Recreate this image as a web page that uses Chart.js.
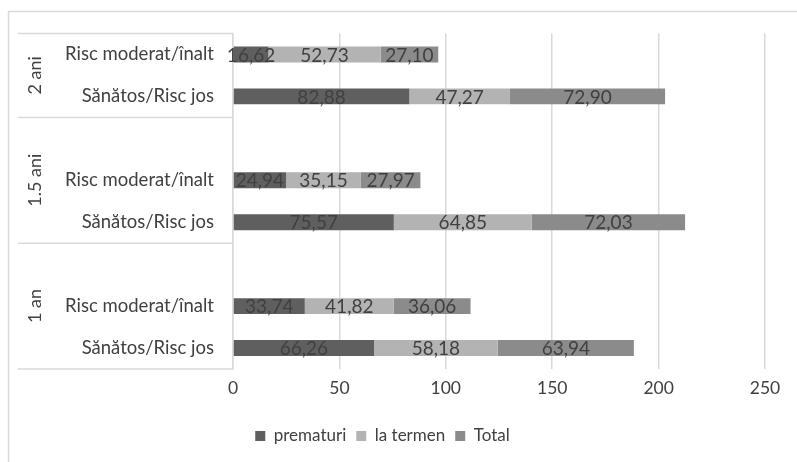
<!DOCTYPE html>
<html>
<head>
<meta charset="utf-8">
<script src="https://cdn.jsdelivr.net/npm/chart.js@4.4.1/dist/chart.umd.min.js"></script>
<style>
  html, body { margin: 0; padding: 0; background: #ffffff; }
  #wrap { width: 797px; height: 462px; }
</style>
</head>
<body>
<div id="wrap"><canvas id="chart" width="797" height="462"></canvas></div>
<script>
// Age groups (top to bottom) and the two risk categories inside each group
const groups = ['2 ani', '1.5 ani', '1 an'];
const subcats = ['Risc moderat/înalt', 'Sănătos/Risc jos'];
const seriesNames = ['prematuri', 'la termen', 'Total'];

// Percentages, row order: 2 ani (Risc, Sănătos), 1.5 ani (Risc, Sănătos), 1 an (Risc, Sănătos)
const prematuri = [16.62, 82.88, 24.94, 75.57, 33.74, 66.26];
const laTermen  = [52.73, 47.27, 35.15, 64.85, 41.82, 58.18];
const total     = [27.10, 72.90, 27.97, 72.03, 36.06, 63.94];

const xTicks = [0, 50, 100, 150, 200, 250];

const seriesColors = ['#5f5f5f', '#b3b3b3', '#8b8b8b'];
const FONT = 'Lato';
const TEXT = '#404040';
const RULE = '#d9d9d9';

// Build category slots: every group after the first starts with an empty slot
const slotLabels = [];
const slotGroup = [];
const slotIndex = [];
groups.forEach((g, gi) => {
  if (gi > 0) { slotLabels.push(''); slotGroup.push(gi); slotIndex.push(-1); }
  subcats.forEach((s, si) => {
    slotLabels.push(s); slotGroup.push(gi); slotIndex.push(gi * subcats.length + si);
  });
});
const toSlots = arr => slotIndex.map(i => (i < 0 ? null : arr[i]));

const fmt = v => v.toFixed(2).replace('.', ',');

// Frame around the whole chart
const framePlugin = {
  id: 'frame',
  beforeDraw(chart) {
    const ctx = chart.ctx;
    ctx.save();
    ctx.strokeStyle = RULE;
    ctx.lineWidth = 1.5;
    ctx.strokeRect(8.5, 11.5, 1000, 1000);
    ctx.restore();
  }
};

// Value labels centred in each bar segment
const valueLabels = {
  id: 'valueLabels',
  afterDatasetsDraw(chart) {
    const ctx = chart.ctx;
    ctx.save();
    ctx.font = `19px ${FONT}`;
    ctx.fillStyle = TEXT;
    ctx.textAlign = 'center';
    ctx.textBaseline = 'middle';
    chart.data.datasets.forEach((ds, di) => {
      const meta = chart.getDatasetMeta(di);
      meta.data.forEach((bar, i) => {
        const v = ds.data[i];
        if (v == null) return;
        ctx.fillText(fmt(v), (bar.x + bar.base) / 2, bar.y + 1);
      });
    });
    ctx.restore();
  }
};

// Group separators and rotated group names on the category axis
const groupAxis = {
  id: 'groupAxis',
  afterDraw(chart) {
    const ctx = chart.ctx;
    const y = chart.scales.y;
    const area = chart.chartArea;
    const n = slotLabels.length;
    const edge = k => {
      if (k <= 0) return area.top;
      if (k >= n) return area.bottom;
      return (y.getPixelForTick(k - 1) + y.getPixelForTick(k)) / 2;
    };
    const x0 = 18, x1 = area.left;
    ctx.save();
    ctx.strokeStyle = RULE;
    ctx.lineWidth = 1.5;
    const bounds = [];
    groups.forEach((g, gi) => {
      const first = slotGroup.indexOf(gi);
      const last = slotGroup.lastIndexOf(gi);
      bounds.push([edge(first), edge(last + 1)]);
    });
    const lines = new Set();
    bounds.forEach(([a, b]) => { lines.add(a); lines.add(b); });
    lines.forEach(py => {
      ctx.beginPath();
      ctx.moveTo(x0, py);
      ctx.lineTo(x1, py);
      ctx.stroke();
    });
    ctx.fillStyle = TEXT;
    ctx.font = `18px ${FONT}`;
    ctx.textAlign = 'center';
    ctx.textBaseline = 'middle';
    groups.forEach((g, gi) => {
      const [a, b] = bounds[gi];
      ctx.save();
      ctx.translate(35, (a + b) / 2);
      ctx.rotate(-Math.PI / 2);
      ctx.fillText(g, 0, 0);
      ctx.restore();
    });
    ctx.restore();
  }
};

const datasets = [prematuri, laTermen, total].map((arr, k) => ({
  label: seriesNames[k],
  data: toSlots(arr),
  backgroundColor: seriesColors[k],
  borderWidth: 0,
  categoryPercentage: 1,
  barPercentage: 0.38
}));

new Chart(document.getElementById('chart'), {
  type: 'bar',
  data: { labels: slotLabels, datasets },
  plugins: [framePlugin, valueLabels, groupAxis],
  options: {
    indexAxis: 'y',
    responsive: false,
    animation: false,
    devicePixelRatio: 1,
    layout: { padding: { left: 0, right: 32, top: 33.5, bottom: 7.5 } },
    scales: {
      x: {
        stacked: true,
        min: 0,
        max: 250,
        afterBuildTicks(s) { s.ticks = xTicks.map(v => ({ value: v })); },
        afterFit(s) { s.height = 48.5; },
        grid: { color: RULE, lineWidth: 1.5, drawTicks: false },
        border: { display: false },
        ticks: { color: TEXT, font: { family: FONT, size: 17.5 }, padding: 9 }
      },
      y: {
        stacked: true,
        afterFit(s) { s.width = 233; },
        grid: { display: false },
        border: { display: true, color: RULE, width: 1.5 },
        ticks: { color: TEXT, font: { family: FONT, size: 18.5 }, padding: 11, autoSkip: false }
      }
    },
    plugins: {
      legend: {
        position: 'bottom',
        labels: {
          boxWidth: 10,
          boxHeight: 10,
          color: TEXT,
          font: { family: FONT, size: 17 },
          padding: 10
        }
      },
      tooltip: { enabled: false }
    }
  }
});
</script>
</body>
</html>
